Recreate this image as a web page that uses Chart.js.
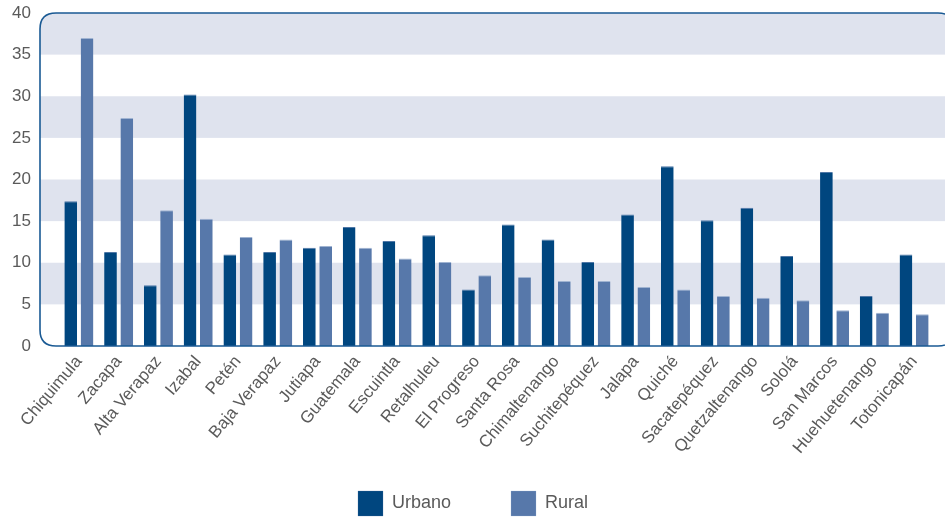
<!DOCTYPE html>
<html>
<head>
<meta charset="utf-8">
<script src="https://cdn.jsdelivr.net/npm/chart.js@4"></script>
<style>
  html, body { margin: 0; padding: 0; background: #ffffff; }
  #wrap { width: 945px; height: 517px; position: relative; }
</style>
</head>
<body>
<div id="wrap"><canvas id="c" width="945" height="517"></canvas></div>
<script>
const departamentos = ["Chiquimula","Zacapa","Alta Verapaz","Izabal","Petén","Baja Verapaz","Jutiapa","Guatemala","Escuintla","Retalhuleu","El Progreso","Santa Rosa","Chimaltenango","Suchitepéquez","Jalapa","Quiché","Sacatepéquez","Quetzaltenango","Sololá","San Marcos","Huehuetenango","Totonicapán"];
const urbano = [17.4, 11.3, 7.3, 30.2, 11.0, 11.3, 11.8, 14.3, 12.6, 13.3, 6.8, 14.6, 12.8, 10.1, 15.8, 21.6, 15.1, 16.6, 10.8, 20.9, 6.0, 11.0];
const rural  = [37.0, 27.4, 16.3, 15.3, 13.1, 12.8, 12.0, 11.8, 10.5, 10.1, 8.5, 8.3, 7.8, 7.8, 7.1, 6.8, 6.0, 5.8, 5.5, 4.3, 4.0, 3.8];
const seriesNames = ["Urbano", "Rural"];
const yTicks = [0, 5, 10, 15, 20, 25, 30, 35, 40];

const FONT = "'Liberation Sans', Arial, sans-serif";
const TEXT = "#5a5a5a";

function roundRectPath(ctx, x, y, w, h, r) {
  ctx.beginPath();
  ctx.moveTo(x + r, y);
  ctx.lineTo(x + w - r, y);
  ctx.quadraticCurveTo(x + w, y, x + w, y + r);
  ctx.lineTo(x + w, y + h - r);
  ctx.quadraticCurveTo(x + w, y + h, x + w - r, y + h);
  ctx.lineTo(x + r, y + h);
  ctx.quadraticCurveTo(x, y + h, x, y + h - r);
  ctx.lineTo(x, y + r);
  ctx.quadraticCurveTo(x, y, x + r, y);
  ctx.closePath();
}

const panelPlugin = {
  id: 'panel',
  afterLayout(chart, args, opts) {
    // let rotated x labels extend down without being clipped, and nudge the legend
    const lg = chart.legend;
    if (lg) {
      lg.top += opts.legendShiftY; lg.bottom += opts.legendShiftY;
      lg.left += opts.legendShiftX; lg.right += opts.legendShiftX;
    }
    chart.scales.x.bottom = chart.height;
  },
  beforeDraw(chart, args, opts) {
    const {ctx, chartArea} = chart;
    const y = chart.scales.y;
    const left = chartArea.left - opts.extendLeft;
    const right = chartArea.right + opts.extendRight;
    const top = chartArea.top, bottom = chartArea.bottom;
    ctx.save();
    roundRectPath(ctx, left, top, right - left, bottom - top, opts.radius);
    ctx.clip();
    ctx.fillStyle = opts.bandColor;
    for (let i = 0; i < yTicks.length - 1; i++) {
      if (i % 2 === 1) {
        const y1 = y.getPixelForValue(yTicks[i]);
        const y2 = y.getPixelForValue(yTicks[i + 1]);
        ctx.fillRect(left, y2, right - left, y1 - y2);
      }
    }
    ctx.restore();
  },
  afterDatasetsDraw(chart, args, opts) {
    const {ctx, chartArea} = chart;
    const left = chartArea.left - opts.extendLeft;
    const right = chartArea.right + opts.extendRight;
    ctx.save();
    roundRectPath(ctx, left, chartArea.top, right - left, chartArea.bottom - chartArea.top, opts.radius);
    ctx.lineWidth = 1.6;
    ctx.strokeStyle = opts.borderColor;
    ctx.stroke();
    ctx.restore();
  }
};

new Chart(document.getElementById('c'), {
  type: 'bar',
  data: {
    labels: departamentos,
    datasets: [
      { label: seriesNames[0], data: urbano, backgroundColor: '#00467f', borderColor: '#4f77a6', borderWidth: {top: 1, left: 0, right: 0, bottom: 0}, categoryPercentage: 0.82, barPercentage: 0.78 },
      { label: seriesNames[1], data: rural, backgroundColor: '#5778aa', borderColor: '#9fb3d1', borderWidth: {top: 1, left: 0, right: 0, bottom: 0}, categoryPercentage: 0.82, barPercentage: 0.78 }
    ]
  },
  options: {
    responsive: false,
    animation: false,
    layout: { padding: { top: 13, left: 0, right: 11, bottom: 0 } },
    scales: {
      x: {
        grid: { display: false, drawTicks: false },
        border: { display: false },
        ticks: {
          autoSkip: false, minRotation: 50, maxRotation: 50, padding: 6,
          color: TEXT, font: { family: FONT, size: 17 }
        },
        afterFit(scale) { scale.height = 76; }
      },
      y: {
        min: 0, max: 40,
        grid: { display: false, drawTicks: false },
        border: { display: false },
        ticks: {
          stepSize: 5, padding: 28, color: TEXT,
          font: { family: FONT, size: 17 }
        },
        afterFit(scale) { scale.width = 59; scale.paddingTop = 0; scale.paddingBottom = 0; }
      }
    },
    plugins: {
      legend: {
        position: 'bottom',
        labels: {
          boxWidth: 25, boxHeight: 25, padding: 60,
          color: TEXT, font: { family: FONT, size: 18 }
        }
      },
      tooltip: { enabled: false },
      panel: { extendLeft: 19, extendRight: 20, radius: 16, bandColor: '#dfe3ee', borderColor: '#1a5a94', legendShiftY: 9, legendShiftX: 6 }
    }
  },
  plugins: [panelPlugin]
});
</script>
</body>
</html>
